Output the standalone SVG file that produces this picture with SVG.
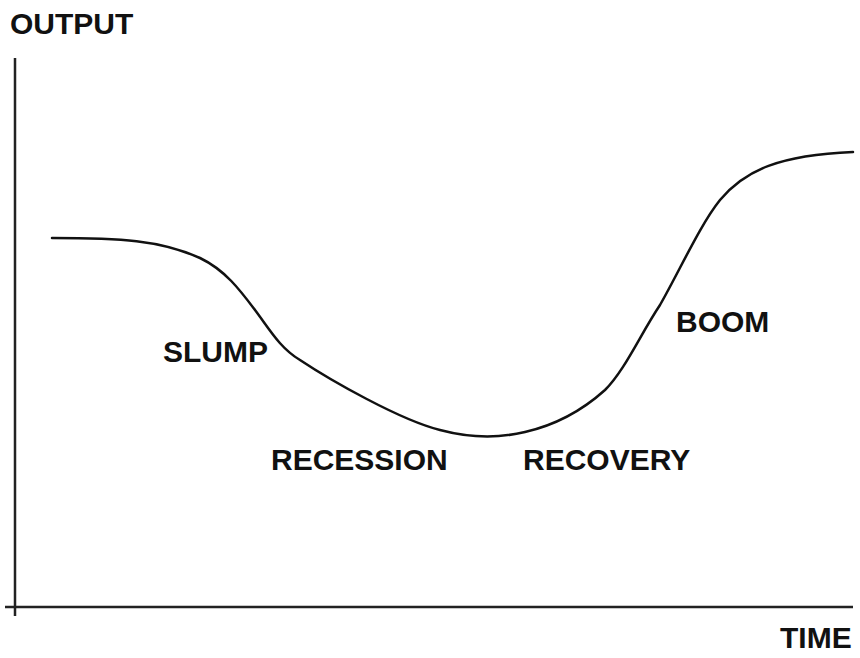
<svg xmlns="http://www.w3.org/2000/svg" width="860" height="658" viewBox="0 0 860 658">
<style>
.lbl{font-family:"Liberation Sans",Arial,sans-serif;font-weight:bold;font-size:30px;fill:#111}
.ax{stroke:#222;stroke-width:2.5;fill:none}
.curve{stroke:#111;stroke-width:2.5;fill:none;stroke-linecap:round}
</style>
<rect width="860" height="658" fill="#fff"/>
<g id="axes">
<line class="ax" x1="15" y1="58" x2="15" y2="616"/>
<line class="ax" x1="5" y1="607" x2="853" y2="607"/>
</g>
<g id="curve">
<path class="curve" d="M52,238 C120,238 160,240 200,258 C225,270 240,290 255,310 C270,330 280,348 300,360 C330,380 400,420 440,430 C470,438 500,438 525,432 C560,424 585,408 605,390 C625,370 640,335 660,305 C680,270 700,225 720,200 C745,170 780,155 853,152"/>
</g>
<g id="labels">
<text class="lbl" x="10" y="34">OUTPUT</text>
<text class="lbl" x="780" y="648">TIME</text>
<text class="lbl" x="163" y="362">SLUMP</text>
<text class="lbl" x="271" y="470">RECESSION</text>
<text class="lbl" x="523" y="470">RECOVERY</text>
<text class="lbl" x="676" y="332">BOOM</text>
</g>
</svg>
